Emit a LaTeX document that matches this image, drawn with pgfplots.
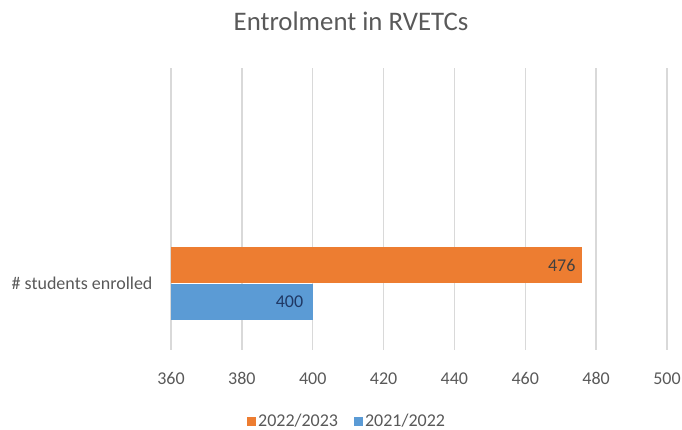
\documentclass[border=0pt]{standalone}
\usepackage{fontspec}
\setmainfont{Carlito}
\usepackage{pgfplots}
\pgfplotsset{compat=1.18}
\usetikzlibrary{calc}

\definecolor{barorange}{HTML}{ED7D31}
\definecolor{barblue}{HTML}{5B9BD5}
\definecolor{gridgray}{HTML}{D9D9D9}
\definecolor{textgray}{HTML}{595959}
\definecolor{labnavy}{HTML}{1F3864}
\definecolor{labgray}{HTML}{404040}

\begin{document}
\begin{tikzpicture}
\begin{axis}[
  scale only axis, width=496pt, height=282pt,
  xmin=360, xmax=500, xtick={360,380,...,500},
  ymin=0, ymax=282, ytick={66.5}, yticklabels={\# students enrolled},
  axis line style={draw=none}, major tick length=0pt,
  xmajorgrids, grid style={color=gridgray, line width=1.3pt},
  /pgf/number format/assume math mode=true,
  /pgf/number format/1000 sep={},
  tick label style={font=\fontsize{18}{21}\selectfont, text=textgray},
  xticklabel style={yshift=-19pt},
  yticklabel style={xshift=-15pt},
  title={Entrolment in RVETCs},
  title style={font=\fontsize{26.8}{30}\selectfont, text=textgray,
    at={(rel axis cs:0.363,1.145)}, anchor=center},
  legend style={at={(rel axis cs:0.355,-0.252)}, anchor=center,
    draw=none, font=\fontsize{18}{21}\selectfont, text=textgray,
    legend columns=2, /tikz/every even column/.append style={column sep=14pt}},
  legend image code/.code={\fill[#1] (0pt,-4.5pt) rectangle (9pt,4.5pt);},
  clip=true,
]
\addplot[xbar, bar width=36, bar shift=0pt, fill=barorange, draw=none,
  nodes near coords, nodes near coords style={anchor=east, xshift=-3pt,
  font=\fontsize{18}{21}\selectfont, text=labgray}]
  coordinates {(476,85)};
\addlegendentry{2022/2023}
\addplot[xbar, bar width=36, bar shift=0pt, fill=barblue, draw=none,
  nodes near coords, nodes near coords style={anchor=east, xshift=-6pt,
  font=\fontsize{18}{21}\selectfont, text=labnavy}]
  coordinates {(400,48)};
\addlegendentry{2021/2022}
\coordinate (bl) at (rel axis cs:0,0);
\coordinate (tr) at (rel axis cs:1,1);
\end{axis}
\pgfresetboundingbox
\path[use as bounding box] ($(bl)+(-171pt,-80pt)$) rectangle ($(tr)+(15pt,68pt)$);
\end{tikzpicture}
\end{document}
